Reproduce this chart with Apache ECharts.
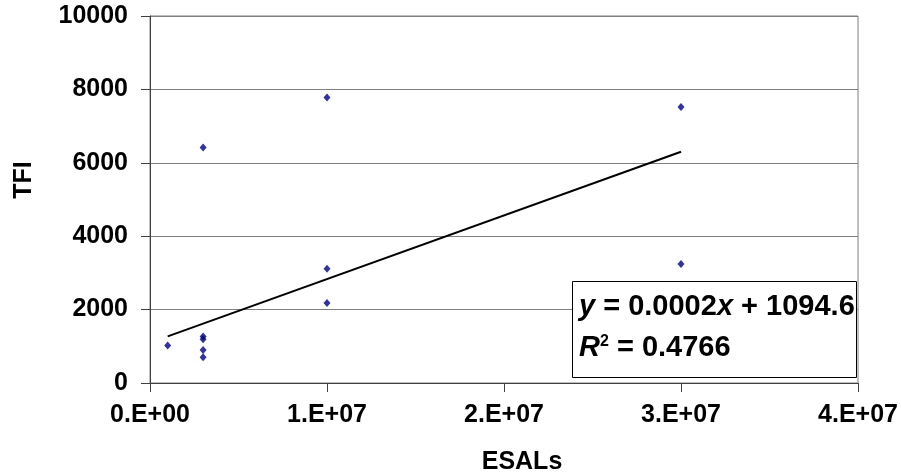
<!DOCTYPE html>
<html>
<head>
<meta charset="utf-8">
<script src="https://cdn.jsdelivr.net/npm/echarts@6/dist/echarts.min.js"></script>
<style>
html,body{margin:0;padding:0;background:#fff;}
#chart{width:901px;height:476px;}
</style>
</head>
<body>
<div id="chart"></div>
<script>
// ---- data ----
var esals = [1e6, 3e6, 3e6, 3e6, 3e6, 3e6, 1e7, 1e7, 1e7, 3e7, 3e7];
var tfi   = [1020, 1270, 1190, 900, 700, 6420, 7780, 3110, 2180, 7520, 3240];
var trendX = [1e6, 3e7];
var trendY = [1270, 6300];
var xTickLabels = ['0.E+00', '1.E+07', '2.E+07', '3.E+07', '4.E+07'];
var yTickLabels = ['0', '2000', '4000', '6000', '8000', '10000'];
var xTitle = 'ESALs';
var yTitle = 'TFI';
var eqLine1 = '{i|y} = 0.0002{i|x} + 1094.6';
var eqLine2 = '{i|R}{s|2} = 0.4766';

var FONT = "'Liberation Sans', Arial, sans-serif";

var chart = echarts.init(document.getElementById('chart'));
var points = esals.map(function (x, i) { return [x, tfi[i]]; });
var trend = trendX.map(function (x, i) { return [x, trendY[i]]; });

chart.setOption({
  animation: false,
  backgroundColor: '#fff',
  grid: {
    left: 150, right: 41, top: 16, bottom: 93,
    show: true, borderColor: '#808080', borderWidth: 1, backgroundColor: '#fff'
  },
  xAxis: {
    type: 'value', min: 0, max: 4e7, interval: 1e7,
    axisLine: { show: true, lineStyle: { color: '#404040', width: 1 } },
    axisTick: { show: true, length: 9, lineStyle: { color: '#404040' } },
    splitLine: { show: false },
    axisLabel: {
      margin: 20, color: '#000', fontFamily: FONT, fontWeight: 'bold', fontSize: 25,
      formatter: function (v) { return xTickLabels[Math.round(v / 1e7)]; }
    }
  },
  yAxis: {
    type: 'value', min: 0, max: 10000, interval: 2000,
    axisLine: { show: true, lineStyle: { color: '#404040', width: 1 } },
    axisTick: { show: true, length: 9, lineStyle: { color: '#404040' } },
    splitLine: { show: true, lineStyle: { color: '#808080', width: 1 } },
    axisLabel: {
      margin: 22, color: '#000', fontFamily: FONT, fontWeight: 'bold', fontSize: 25,
      formatter: function (v) { return yTickLabels[Math.round(v / 2000)]; }
    }
  },
  series: [
    {
      type: 'scatter', data: points, symbol: 'diamond', symbolSize: [7, 8],
      itemStyle: { color: '#000080' }, z: 3
    },
    {
      type: 'line', data: trend, showSymbol: false, symbol: 'none',
      lineStyle: { color: '#000', width: 2 }, z: 2
    }
  ],
  graphic: [
    {
      type: 'text', x: 24, y: 180, rotation: Math.PI / 2,
      style: { text: yTitle, fill: '#000', font: 'bold 25px ' + FONT, align: 'center', verticalAlign: 'middle' }
    },
    {
      type: 'text', x: 522, y: 462,
      style: { text: xTitle, fill: '#000', font: 'bold 25px ' + FONT, align: 'center', verticalAlign: 'middle' }
    },
    {
      type: 'rect', z: 10,
      shape: { x: 572.5, y: 281.5, width: 284, height: 96 },
      style: { fill: '#fff', stroke: '#000', lineWidth: 1 }
    },
    {
      type: 'text', z: 11, x: 579, y: 307,
      style: {
        text: eqLine1, fill: '#000', font: 'bold 29px ' + FONT, align: 'left', verticalAlign: 'middle',
        rich: { i: { fontStyle: 'italic', fontWeight: 'bold', fontSize: 29, fontFamily: FONT } }
      }
    },
    {
      type: 'text', z: 11, x: 579, y: 348,
      style: {
        text: eqLine2, fill: '#000', font: 'bold 29px ' + FONT, align: 'left', verticalAlign: 'middle',
        rich: {
          i: { fontStyle: 'italic', fontWeight: 'bold', fontSize: 29, fontFamily: FONT },
          s: { fontWeight: 'bold', fontSize: 16, fontFamily: FONT, verticalAlign: 'top', padding: [0, 0, 10, 0] }
        }
      }
    }
  ]
});
</script>
</body>
</html>
